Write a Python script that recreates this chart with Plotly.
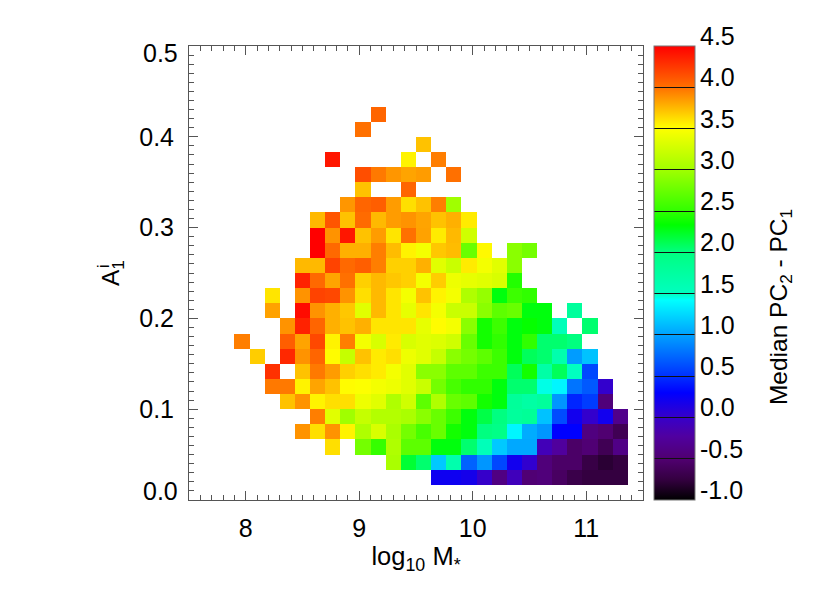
# 2D map: median PC2 - PC1 over stellar mass and A1
import plotly.graph_objects as go

FONT = "Liberation Sans"
AXIS_GREY = "#555555"

n_bins = 30
x_range = [7.5, 11.5]
y_range = [0.0, 0.5]

x_ticks = [8, 9, 10, 11]
y_ticks = [0.1, 0.2, 0.3, 0.4]
y_end_ticks = ["0.0", "0.5"]
cbar_ticks = [-1.0, -0.5, 0.0, 0.5, 1.0, 1.5, 2.0, 2.5, 3.0, 3.5, 4.0, 4.5]

# rows from the bottom; first number of each row is its first filled column
N = None
row_01 = (16, [0.22, 0.22, 0.18, 0.0, -0.4, -0.08, -0.48, -0.45, -0.58, -0.7, -0.75, -0.75, -0.75])
row_02 = (13, [3.05, 2.2, 2.05, 1.18, 1.65, 0.72, 0.95, 0.6, 0.2, 0.03, -0.45, -0.55, -0.55, -0.72, -0.8, -0.75])
row_03 = (9, [3.62, N, 2.8, 2.52, 3.08, 2.7, 2.7, 2.3, 2.3, 2.05, 1.55, 1.18, 1.03, 1.03, -0.1, -0.25, -0.55, -0.48, -0.65, -0.38])
row_04 = (7, [3.88, 3.62, 3.88, 3.55, 3.08, 3.3, 3.05, 2.8, 2.6, 2.75, 2.4, 2.3, 2.0, 1.95, 1.38, 1.05, 0.95, 0.3, 0.3, -0.42, -0.5, -0.65])
row_05 = (8, [3.95, 3.35, 3.0, 3.2, 3.1, 3.1, 3.05, 2.9, 2.75, 2.55, 2.3, 2.15, 2.0, 1.78, 1.82, 1.15, 0.62, 0.2, 0.02, 0.2, -0.35])
row_06 = (6, [3.72, 3.88, 3.55, 3.62, 3.62, 3.42, 3.35, 3.08, 3.25, 2.7, 3.08, 2.75, 2.7, 2.4, 2.3, 1.8, 1.72, 1.78, 0.95, 0.45, 0.55, -0.45])
row_07 = (5, [3.97, 3.97, 3.55, 3.82, 3.72, 3.52, 3.5, 3.45, 3.42, 3.35, 3.22, 2.8, 2.6, 2.5, 2.5, 2.3, 2.05, 2.05, 1.45, 1.38, 0.8, 0.68, 0.02])
row_08 = (5, [4.28, N, 3.72, 3.97, 3.85, 3.67, 3.62, 3.58, 3.45, 3.35, 2.9, 2.9, 2.7, 2.7, 2.55, 2.55, 2.1, 2.4, 1.7, 2.1, 1.5, 0.6])
row_09 = (4, [3.68, N, 4.32, 3.88, 4.05, 3.52, 3.2, 3.72, 3.58, 3.62, 3.42, 3.35, 3.2, 2.9, 2.8, 2.7, 2.55, 2.3, 2.1, 2.05, 1.65, 0.98, 1.15])
row_10 = (3, [3.95, N, N, 4.08, 3.82, 4.18, 3.55, 3.95, 3.45, 3.3, 3.58, 3.3, 3.35, 3.32, 3.25, 2.75, 2.4, 2.5, 2.3, 2.5, 2.05, 2.05, 2.0])
row_11 = (6, [3.88, 4.35, 4.05, 3.78, 3.72, 3.78, 3.6, 3.6, 3.6, 3.38, 3.52, 3.45, 2.9, 2.4, 2.55, 2.3, 2.35, 2.3, 1.55, N, 2.05])
row_12 = (5, [3.83, N, 4.45, 3.88, 3.78, 3.7, 3.35, 3.75, 3.6, 3.38, 3.6, 3.45, 3.22, 3.22, 2.9, 2.7, 2.75, 2.3, 2.3, N, 1.78])
row_13 = (5, [3.6, N, 3.88, 4.2, 4.18, 3.88, 3.62, 3.75, 3.6, 3.45, 3.72, 3.55, 3.45, 3.08, 2.95, 2.3, 2.55, 2.5])
row_14 = (7, [4.35, 4.03, 3.82, 4.0, 3.67, 3.75, 3.7, 3.67, 3.45, 3.68, 3.42, 3.38, 3.35, 3.3, 2.45])
row_15 = (7, [3.75, 3.75, 4.2, 4.03, 4.08, 3.95, 3.67, 3.67, 3.78, 3.35, 3.22, 3.58, 3.45, 3.35, 2.9])
row_16 = (8, [4.5, 4.03, 3.78, 3.78, 3.95, 3.74, 3.55, 3.45, 3.7, 3.74, 2.75, 3.53, N, 2.9, 2.8])
row_17 = (8, [4.5, 3.88, 4.4, 3.72, 3.85, 3.6, 4.0, 3.83, 3.58, 3.75, 3.25])
row_18 = (8, [3.75, 4.12, 3.72, 4.02, 3.75, 3.85, 3.88, 3.82, 3.72, 3.78, 3.58])
row_19 = (10, [3.87, 4.05, 4.08, 3.85, 3.62, 3.72, 3.95, 3.0])
row_20 = (11, [3.72, N, N, 4.05])
row_21 = (11, [4.15, 3.97, 3.87, 3.82, 3.85, N, 4.0])
row_22 = (9, [4.4, N, N, N, N, 3.55, N, 3.95])
row_23 = (15, [3.72])
row_24 = (11, [4.0])
row_25 = (12, [4.05])

rows = [row_01, row_02, row_03, row_04, row_05, row_06, row_07, row_08, row_09,
        row_10, row_11, row_12, row_13, row_14, row_15, row_16, row_17, row_18,
        row_19, row_20, row_21, row_22, row_23, row_24, row_25]

# IDL rainbow style table, black at the bottom to red at the top
colorscale = [
    [0.0, "#000000"], [0.045, "#340040"], [0.09, "#500070"], [0.14, "#5000a0"],
    [0.18, "#3800c8"], [0.236, "#0000ff"],
    [0.272, "#0030ff"], [0.363, "#00a0ff"], [0.44, "#00ffff"], [0.454, "#00ffc0"],
    [0.546, "#00ff80"], [0.606, "#00ff00"], [0.636, "#30ff00"], [0.727, "#a0ff00"],
    [0.82, "#ffff00"], [0.909, "#ff7000"], [1.0, "#ff0000"],
]

z = [[None] * n_bins]
for start, values in rows:
    z.append([None] * start + values + [None] * (n_bins - start - len(values)))
while len(z) < n_bins:
    z.append([None] * n_bins)

dx = (x_range[1] - x_range[0]) / n_bins
dy = (y_range[1] - y_range[0]) / n_bins

tick_font = dict(size=25, color="black", family=FONT)
title_font = dict(size=24.5, color="black", family=FONT)

fig = go.Figure(go.Heatmap(
    z=z,
    x0=x_range[0] + dx / 2, dx=dx,
    y0=y_range[0] + dy / 2, dy=dy,
    zmin=cbar_ticks[0], zmax=cbar_ticks[-1],
    colorscale=colorscale,
    hoverongaps=False,
    colorbar=dict(
        x=1.0242, xanchor="left", xpad=0,
        y=0.5, yanchor="middle", ypad=0, len=1,
        thickness=41,
        outlinecolor="#777777", outlinewidth=1,
        tickmode="array", tickvals=cbar_ticks[1:-1],
        ticks="inside", ticklen=41, tickcolor="#111111", tickwidth=1,
        showticklabels=False,
    ),
))

fig.update_xaxes(
    range=x_range, tickmode="array", tickvals=x_ticks,
    ticks="inside", ticklen=9, tickcolor=AXIS_GREY, tickwidth=1,
    showline=True, linecolor=AXIS_GREY, linewidth=1, mirror="ticks",
    showgrid=False, zeroline=False, ticklabelstandoff=6,
    minor=dict(dtick=0.1, tick0=7.5, ticks="inside", ticklen=5,
               tickcolor=AXIS_GREY, tickwidth=1, showgrid=False),
    title=dict(text="log<sub>10</sub> M<sub>*</sub>", standoff=6,
               font=dict(size=25.5, color="black", family=FONT)),
)
fig.update_yaxes(
    range=y_range, tickmode="array", tickvals=y_ticks, tickformat=".1f",
    ticks="inside", ticklen=9, tickcolor=AXIS_GREY, tickwidth=1,
    showline=True, linecolor=AXIS_GREY, linewidth=1, mirror="ticks",
    showgrid=False, zeroline=False, ticklabelstandoff=9,
    minor=dict(dtick=0.01, tick0=0, ticks="inside", ticklen=5,
               tickcolor=AXIS_GREY, tickwidth=1, showgrid=False),
)

# end labels of the y axis sit inside the axis span
fig.add_annotation(text=y_end_ticks[0], xref="paper", yref="y", x=0, y=y_range[0],
                   xanchor="right", yanchor="middle", xshift=-9, yshift=9,
                   showarrow=False, font=tick_font)
fig.add_annotation(text=y_end_ticks[1], xref="paper", yref="y", x=0, y=y_range[1],
                   xanchor="right", yanchor="middle", xshift=-9, yshift=-7,
                   showarrow=False, font=tick_font)

# colour bar labels sit above their band lines
for v in cbar_ticks:
    fig.add_annotation(text=f"{v:.1f}", xref="paper", yref="paper", x=1,
                       y=(v - cbar_ticks[0]) / (cbar_ticks[-1] - cbar_ticks[0]),
                       xanchor="left", yanchor="middle", xshift=55, yshift=10,
                       showarrow=False, font=tick_font)

fig.add_annotation(text="Median PC<sub>2</sub> - PC<sub>1</sub>", xref="paper", yref="paper",
                   x=1, y=0.425, xanchor="center", yanchor="middle", xshift=137, textangle=-90,
                   showarrow=False, font=title_font)
fig.add_annotation(text="A<sub>1</sub>", xref="paper", yref="paper", x=0, y=0.5,
                   xanchor="center", yanchor="middle", xshift=-77, textangle=-90,
                   showarrow=False, font=title_font)
fig.add_annotation(text="i", xref="paper", yref="paper", x=0, y=0.5,
                   xanchor="center", yanchor="middle", xshift=-86, yshift=7, textangle=-90,
                   showarrow=False, font=dict(size=16, color="black", family=FONT))

fig.update_layout(
    width=830, height=593,
    margin=dict(l=189, r=187, t=46, b=93, autoexpand=False),
    paper_bgcolor="white", plot_bgcolor="white",
    font=dict(family=FONT, size=25, color="black"),
    showlegend=False,
)

fig.write_html("out.html", config={"displayModeBar": False},
               post_script="document.body.style.margin='0';")
